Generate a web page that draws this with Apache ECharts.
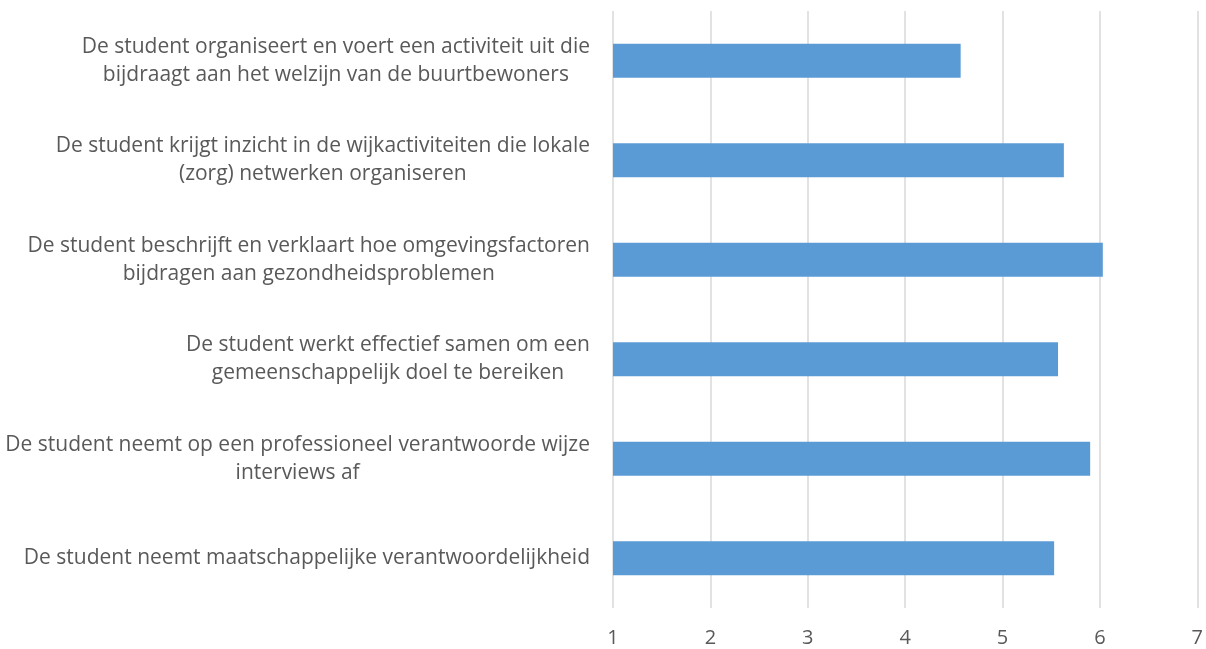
<!DOCTYPE html>
<html>
<head>
<meta charset="utf-8">
<script src="https://cdn.jsdelivr.net/npm/echarts@6/dist/echarts.min.js"></script>
<style>
html,body{margin:0;padding:0;background:#fff;}
#chart{width:1206px;height:649px;}
</style>
</head>
<body>
<div id="chart"></div>
<script>
const categories = [
  "De student organiseert en voert een activiteit uit die\nbijdraagt aan het welzijn van de buurtbewoners",
  "De student krijgt inzicht in de wijkactiviteiten die lokale\n(zorg) netwerken organiseren",
  "De student beschrijft en verklaart hoe omgevingsfactoren\nbijdragen aan gezondheidsproblemen",
  "De student werkt effectief samen om een\ngemeenschappelijk doel te bereiken",
  "De student neemt op een professioneel verantwoorde wijze\ninterviews af",
  "De student neemt maatschappelijke verantwoordelijkheid"
];
const values = [4.57, 5.63, 6.03, 5.57, 5.90, 5.53];
const xMin = 1, xMax = 7, xStep = 1;

const FONT = 'Open Sans';
const chart = echarts.init(document.getElementById('chart'));
chart.setOption({
  animation: false,
  grid: { left: 613, right: 6, top: 11, bottom: 41, containLabel: false },
  xAxis: {
    type: 'value', min: xMin, max: xMax, interval: xStep,
    axisLine: { show: false }, axisTick: { show: false },
    splitLine: { show: true, lineStyle: { color: '#D9D9D9', width: 1.5 } },
    axisLabel: { color: '#595959', fontSize: 20, fontFamily: FONT, margin: 20 }
  },
  yAxis: {
    type: 'category', data: categories, inverse: true,
    axisLine: { show: false }, axisTick: { show: false },
    axisLabel: {
      color: '#595959', fontSize: 21, fontFamily: FONT, margin: 23,
      align: 'right', lineHeight: 28,
      formatter: function (v) {
        return v.split('\n').map(function (l) { return '{c|' + l + '}'; }).join('\n');
      },
      rich: { c: { align: 'center', color: '#595959', fontSize: 21, fontFamily: FONT, lineHeight: 28 } }
    }
  },
  series: [{
    type: 'bar', data: values, barWidth: 34,
    itemStyle: { color: '#5B9BD5' }
  }]
});
</script>
</body>
</html>
